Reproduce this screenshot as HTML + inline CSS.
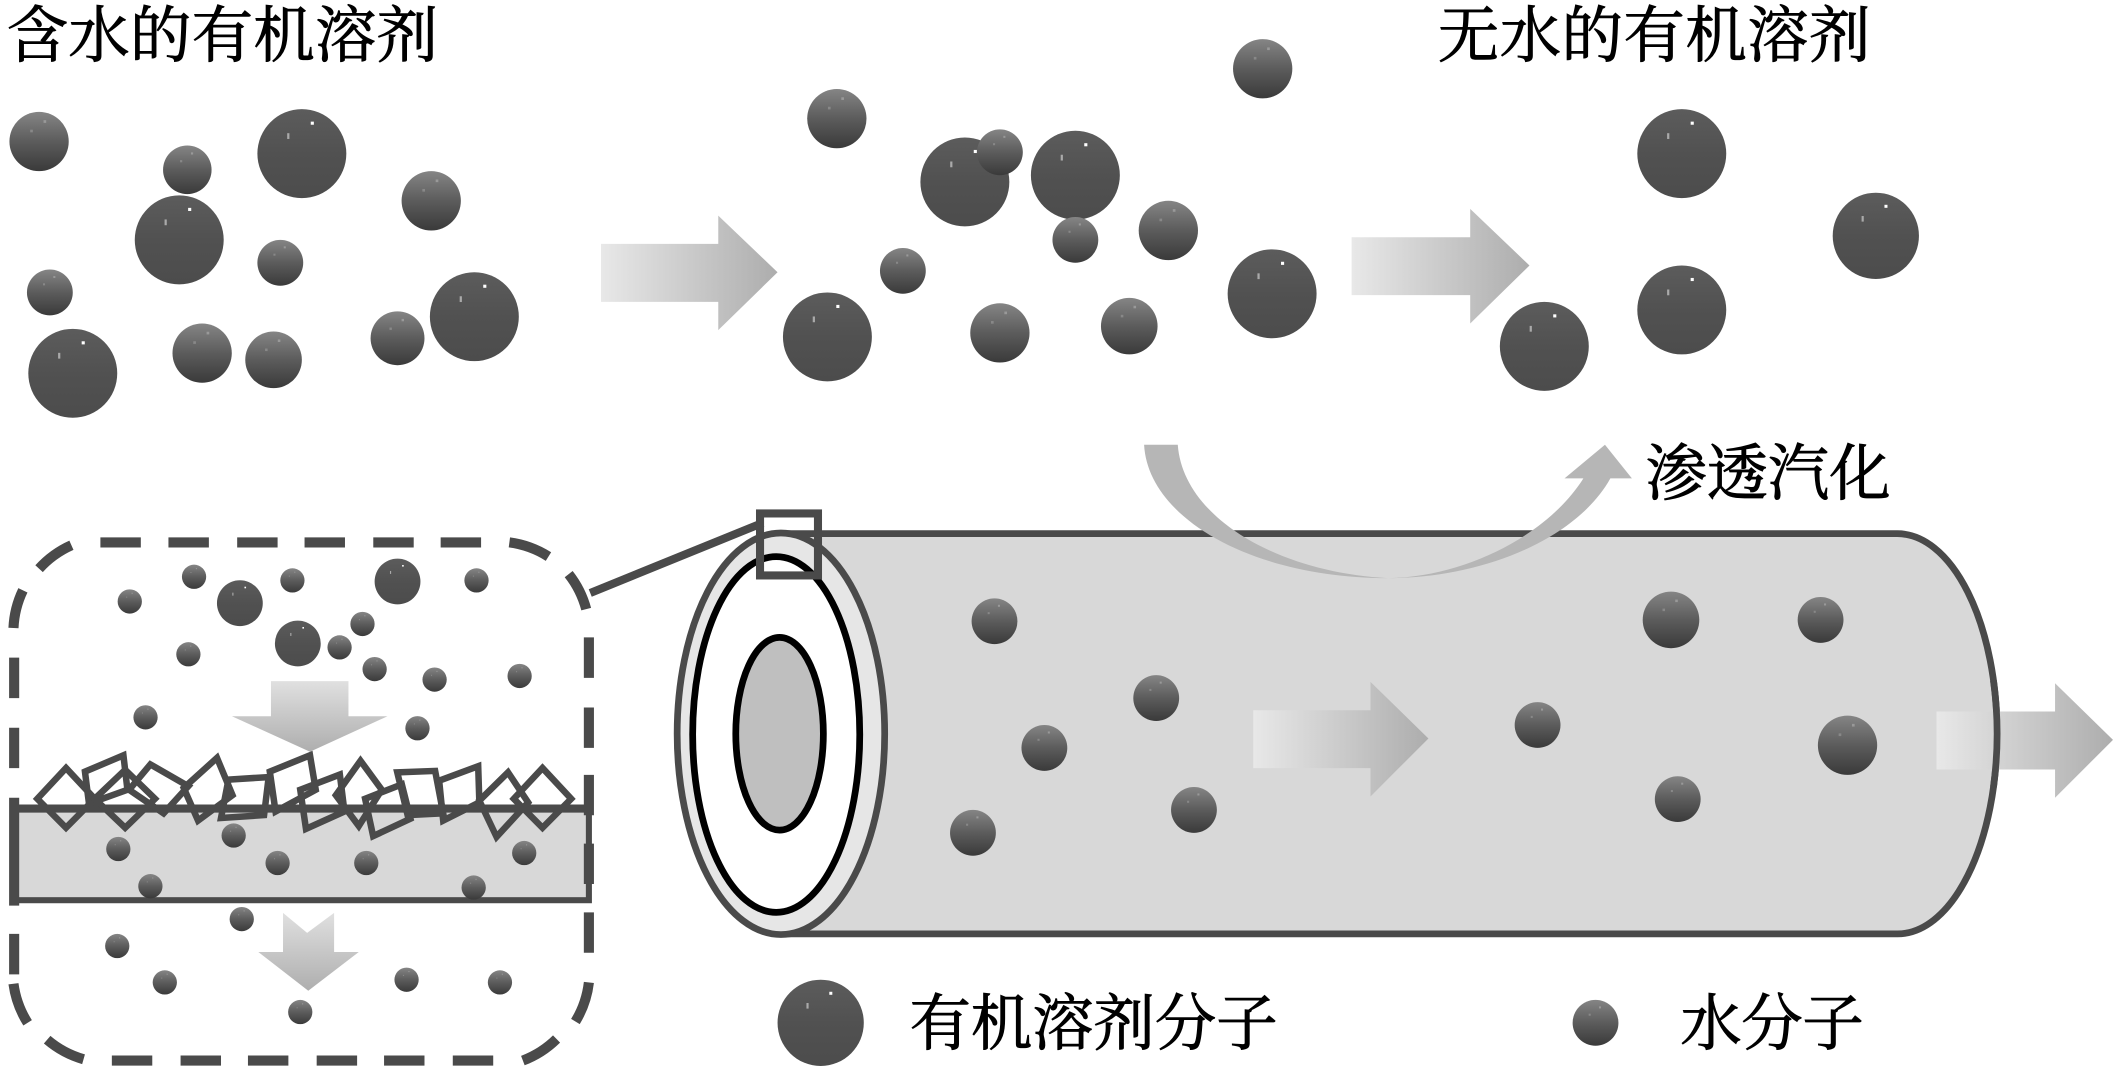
<!DOCTYPE html>
<html><head><meta charset="utf-8">
<style>
html,body{margin:0;padding:0;background:#fff;width:2113px;height:1068px;overflow:hidden}
svg{display:block}
text{font-family:"Liberation Serif","Noto Serif CJK SC",serif;font-size:45.5px;fill:#000;stroke:#000;stroke-width:.7px}
</style></head><body>
<svg xmlns="http://www.w3.org/2000/svg" width="2113" height="1068" viewBox="0 0 1568 792.5">
<defs>
<linearGradient id="h" x1="0" x2="1" y1="0" y2="0"><stop offset="0" stop-color="#e8e8e8"/><stop offset="1" stop-color="#adadad"/></linearGradient>
<linearGradient id="v" x1="0" x2="0" y1="0" y2="1"><stop offset="0" stop-color="#e0e0e0"/><stop offset="1" stop-color="#aeaeae"/></linearGradient>
<linearGradient id="big" x1="0" x2="0" y1="0" y2="1"><stop offset="0" stop-color="#5c5c5c"/><stop offset=".5" stop-color="#515151"/><stop offset="1" stop-color="#4c4c4c"/></linearGradient>
<linearGradient id="mid" x1="0" x2="0" y1="0" y2="1"><stop offset="0" stop-color="#858585"/><stop offset=".5" stop-color="#5c5c5c"/><stop offset="1" stop-color="#3a3a3a"/></linearGradient>
<g id="B"><circle r="1" fill="url(#big)"/><rect x=".2" y="-.72" width=".07" height=".07" fill="#fff"/><rect x="-.33" y="-.46" width=".05" height=".13" fill="#aaa"/></g>
<g id="M"><circle r="1" fill="url(#mid)"/><rect x=".15" y="-.72" width=".09" height=".09" fill="#999"/><rect x="-.3" y="-.4" width=".09" height=".09" fill="#888"/></g>
</defs>

<text x="5" y="42" textLength="320">含水的有机溶剂</text>
<text x="1067" y="42" textLength="321">无水的有机溶剂</text>
<text x="1221" y="367" textLength="182">渗透汽化</text>
<text x="675" y="775" textLength="273">有机溶剂分子</text>
<text x="1247" y="775" textLength="136">水分子</text>

<!-- top-left balls -->
<use href="#M" transform="translate(29 105) scale(22)"/>
<use href="#M" transform="translate(139 126) scale(18)"/>
<use href="#B" transform="translate(224 114) scale(33)"/>
<use href="#M" transform="translate(320 149) scale(22)"/>
<use href="#B" transform="translate(133 178) scale(33)"/>
<use href="#M" transform="translate(208 195) scale(17)"/>
<use href="#M" transform="translate(37 217) scale(17)"/>
<use href="#B" transform="translate(54 277) scale(33)"/>
<use href="#M" transform="translate(150 262) scale(22)"/>
<use href="#M" transform="translate(203 267) scale(21)"/>
<use href="#M" transform="translate(295 251) scale(20)"/>
<use href="#B" transform="translate(352 235) scale(33)"/>
<!-- top-middle balls -->
<use href="#M" transform="translate(621 88) scale(22)"/>
<use href="#M" transform="translate(937 51) scale(22)"/>
<use href="#B" transform="translate(716 135) scale(33)"/>
<use href="#M" transform="translate(742 113) scale(17)"/>
<use href="#B" transform="translate(798 130) scale(33)"/>
<use href="#M" transform="translate(867 171) scale(22)"/>
<use href="#M" transform="translate(798 178) scale(17)"/>
<use href="#M" transform="translate(670 201) scale(17)"/>
<use href="#B" transform="translate(614 250) scale(33)"/>
<use href="#M" transform="translate(742 247) scale(22)"/>
<use href="#M" transform="translate(838 242) scale(21)"/>
<use href="#B" transform="translate(944 218) scale(33)"/>
<!-- top-right balls -->
<use href="#B" transform="translate(1248 114) scale(33)"/>
<use href="#B" transform="translate(1392 175) scale(32)"/>
<use href="#B" transform="translate(1248 230) scale(33)"/>
<use href="#B" transform="translate(1146 257) scale(33)"/>

<!-- top arrows -->
<polygon points="446,181 533,181 533,160 577,202 533,245 533,224 446,224" fill="url(#h)"/>
<polygon points="1003,176 1091,176 1091,155 1135,197 1091,240 1091,219 1003,219" fill="url(#h)"/>

<!-- tube -->
<path d="M580 396 H1408 A74 148.500 0 0 1 1408 693 H580 Z" fill="#d8d8d8" stroke="#4a4a4a" stroke-width="5"/>
<use href="#M" transform="translate(738 461) scale(17)"/>
<use href="#M" transform="translate(858 518) scale(17)"/>
<use href="#M" transform="translate(775 555) scale(17)"/>
<use href="#M" transform="translate(886 601) scale(17)"/>
<use href="#M" transform="translate(722 618) scale(17)"/>
<use href="#M" transform="translate(1240 460) scale(21)"/>
<use href="#M" transform="translate(1351 460) scale(17)"/>
<use href="#M" transform="translate(1141 538) scale(17)"/>
<use href="#M" transform="translate(1371 553) scale(22)"/>
<use href="#M" transform="translate(1245 593) scale(17)"/>
<polygon points="930,527 1017,527 1017,506 1060,548 1017,591 1017,570 930,570" fill="url(#h)"/>
<polygon points="1437,528 1525,528 1525,507 1568,549 1525,592 1525,571 1437,571" fill="url(#h)"/>
<path d="M1479.300 505 A74 148.500 0 0 1 1479.300 584" fill="none" stroke="#4a4a4a" stroke-width="5"/>

<!-- curved arrow -->
<path d="M849 330 C852 385 930 429 1030 429 C1100 429 1170 400 1195 355 L1211 355 L1191 330 L1161 355 L1175 355 C1150 395 1090 428 1030 429 C950 425 878 385 874 330 Z" fill="#b6b6b6"/>

<!-- tube end -->
<ellipse cx="579.500" cy="544.500" rx="77" ry="149" fill="#e6e6e6" stroke="#4a4a4a" stroke-width="5"/>
<ellipse cx="576" cy="545" rx="62" ry="132" fill="#fff" stroke="#000" stroke-width="5"/>
<ellipse cx="578.500" cy="544.500" rx="32.500" ry="71.500" fill="#bfbfbf" stroke="#000" stroke-width="5"/>
<rect x="564" y="381" width="43" height="46" fill="none" stroke="#4a4a4a" stroke-width="6"/>
<line x1="566" y1="388" x2="438" y2="440" stroke="#4a4a4a" stroke-width="6"/>

<!-- dashed inset -->
<rect x="11" y="600" width="426" height="68" fill="#d8d8d8" stroke="#4a4a4a" stroke-width="4.500"/>
<line x1="9" y1="600" x2="439" y2="600" stroke="#4a4a4a" stroke-width="6"/>
<g fill="none" stroke="#4a4a4a" stroke-width="7.500">
<path d="M74.500 402.500h30M125 402.500h30M176 402.500h30M226 402.500h30M277 402.500h30M327 402.500h30"/>
<path d="M83 787h30M134 787h30M184 787h30M235 787h30M285 787h30M336 787h30"/>
<path d="M10.500 488v30M10.500 540v30M10.500 592v80M10.500 693v30"/>
<path d="M437 473v30M437 525v30M437 575v30M437 626v30M437 677v30"/>
<path d="M53 404.600A72 72 0 0 0 29 422M17 438A72 72 0 0 0 10 466"/>
<path d="M378 402.500A72 72 0 0 1 407 413M422 426A72 72 0 0 1 435 452"/>
<path d="M10 730A72 72 0 0 0 20.500 759M35 771.500A72 72 0 0 0 62 786"/>
<path d="M437 729A72 72 0 0 1 427 758M413 771A72 72 0 0 1 388 787"/>
</g>

<g transform="translate(0 371) scale(.426 .2688)" fill="none" stroke="#4a4a4a" stroke-width="6.500" stroke-linejoin="miter">
<polygon vector-effect="non-scaling-stroke" points="115,740 165,825 115,905 65,825"/>
<polygon vector-effect="non-scaling-stroke" points="148,750 215,705 222,800 155,838"/>
<polygon vector-effect="non-scaling-stroke" points="218,745 270,825 218,905 165,825"/>
<polygon vector-effect="non-scaling-stroke" points="262,730 328,790 285,865 225,800"/>
<polygon vector-effect="non-scaling-stroke" points="378,712 405,815 345,885 320,795"/>
<polygon vector-effect="non-scaling-stroke" points="398,772 468,765 460,870 385,878"/>
<polygon vector-effect="non-scaling-stroke" points="470,750 540,705 550,800 480,860"/>
<polygon vector-effect="non-scaling-stroke" points="523,800 592,758 600,860 533,908"/>
<polygon vector-effect="non-scaling-stroke" points="628,720 665,800 625,900 585,815"/>
<polygon vector-effect="non-scaling-stroke" points="636,825 700,785 715,880 650,928"/>
<polygon vector-effect="non-scaling-stroke" points="692,752 758,748 772,865 710,870"/>
<polygon vector-effect="non-scaling-stroke" points="765,775 833,735 835,835 772,885"/>
<polygon vector-effect="non-scaling-stroke" points="885,752 920,835 865,930 835,830"/>
<polygon vector-effect="non-scaling-stroke" points="945,740 995,825 945,905 895,825"/>
</g>

<!-- inset arrows -->
<g transform="translate(0 371) scale(.426 .2688)">
<polygon points="472,500 607,500 607,597 675,597 540,695 404,597 472,597" fill="url(#v)"/>
<polygon points="493,1140 535,1195 582,1140 582,1248 625,1248 537,1355 450,1248 493,1248" fill="url(#v)"/>
</g>

<!-- inset balls -->
<use href="#B" transform="translate(178 447.600) scale(17)"/>
<use href="#B" transform="translate(295 431.500) scale(17)"/>
<use href="#B" transform="translate(221 477.500) scale(17)"/>
<use href="#M" transform="translate(96.300 446.300) scale(9)"/>
<use href="#M" transform="translate(144 428) scale(9)"/>
<use href="#M" transform="translate(217 430.700) scale(9)"/>
<use href="#M" transform="translate(353.600 430.700) scale(9)"/>
<use href="#M" transform="translate(269 463) scale(9)"/>
<use href="#M" transform="translate(252 480.400) scale(9)"/>
<use href="#M" transform="translate(278 496.500) scale(9)"/>
<use href="#M" transform="translate(322.500 504.300) scale(9)"/>
<use href="#M" transform="translate(385.600 501.600) scale(9)"/>
<use href="#M" transform="translate(139.800 485.500) scale(9)"/>
<use href="#M" transform="translate(108 532.300) scale(9)"/>
<use href="#M" transform="translate(309.800 540.400) scale(9)"/>
<use href="#M" transform="translate(173.400 620) scale(9)"/>
<use href="#M" transform="translate(87.800 630) scale(9)"/>
<use href="#M" transform="translate(206 640.400) scale(9)"/>
<use href="#M" transform="translate(271.800 640.400) scale(9)"/>
<use href="#M" transform="translate(389 633) scale(9)"/>
<use href="#M" transform="translate(111.600 657.600) scale(9)"/>
<use href="#M" transform="translate(351.500 658.600) scale(9)"/>
<use href="#M" transform="translate(179.400 682) scale(9)"/>
<use href="#M" transform="translate(87 702) scale(9)"/>
<use href="#M" transform="translate(122.300 729) scale(9)"/>
<use href="#M" transform="translate(301.700 727) scale(9)"/>
<use href="#M" transform="translate(371 729) scale(9)"/>
<use href="#M" transform="translate(222.800 751) scale(9)"/>

<!-- legend -->
<use href="#B" transform="translate(609 759) scale(32)"/>
<use href="#M" transform="translate(1184 759) scale(17)"/>
</svg>
</body></html>
